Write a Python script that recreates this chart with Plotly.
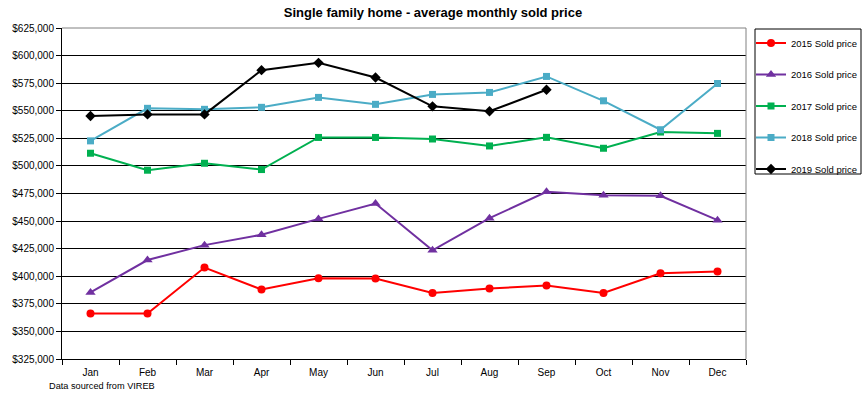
import plotly.graph_objects as go

months = ["Jan", "Feb", "Mar", "Apr", "May", "Jun", "Jul", "Aug", "Sep", "Oct", "Nov", "Dec"]

sold_2015 = [366300, 366300, 407900, 388000, 398200, 397900, 384900, 388900, 391600, 384900, 402700, 404200]
sold_2016 = [385300, 414700, 428200, 437600, 452000, 465900, 423500, 452600, 476500, 473500, 472900, 450800]
sold_2017 = [511500, 496100, 502400, 496700, 525800, 525800, 524400, 518100, 525900, 516000, 530700, 529500]
sold_2018 = [522700, 552200, 551300, 553100, 562100, 555800, 564800, 566600, 581100, 559000, 532800, 574700]
sold_2019 = [545200, 546700, 546700, 586800, 593400, 580100, 554000, 549500, 569000]

series_names = ["2015 Sold price", "2016 Sold price", "2017 Sold price", "2018 Sold price", "2019 Sold price"]
series_values = [sold_2015, sold_2016, sold_2017, sold_2018, sold_2019]
colors = ["#FF0000", "#7030A0", "#00B050", "#4BACC6", "#000000"]
symbols = ["circle", "triangle-up", "square", "square", "diamond"]
sizes = [8, 9, 7, 7, 8]

y_min, y_max, y_step = 325000, 625000, 25000

FONT = "Arial, Liberation Sans, sans-serif"

# plot area in page pixels: x 62..746, y 28..359
PX_L, PX_R, PX_T, PX_B = 62, 746, 28, 359
def px_x(x):
    return (x - PX_L) / (PX_R - PX_L)
def px_y(y):
    return (PX_B - y) / (PX_B - PX_T)

fig = go.Figure()
for i, (name, vals) in enumerate(zip(series_names, series_values)):
    fig.add_trace(go.Scatter(
        x=months[:len(vals)], y=vals, name=name, mode="lines+markers",
        line=dict(color=colors[i], width=2),
        marker=dict(symbol=symbols[i], size=sizes[i], color=colors[i]),
        legendgroup=f"g{i}",
    ))

fig.update_layout(
    width=868, height=396,
    margin=dict(l=PX_L, r=868 - PX_R, t=PX_T, b=396 - PX_B, autoexpand=False),
    paper_bgcolor="white", plot_bgcolor="white",
    font=dict(family=FONT, size=10, color="black"),
    title=dict(text="<b>Single family home - average monthly sold price</b>",
               x=(433 / 868), xanchor="center", y=1 - 12 / 396, yanchor="middle",
               font=dict(size=13, family=FONT, color="black")),
    showlegend=True,
    legend=dict(x=px_x(751), xanchor="left", y=px_y(28.5), yanchor="top",
                borderwidth=0, bgcolor="rgba(0,0,0,0)",
                font=dict(size=9.5, family=FONT), tracegroupgap=12.5,
                itemwidth=30),
    xaxis=dict(type="category", categoryorder="array", categoryarray=months,
               range=[-0.5, 11.5], showgrid=False,
               showline=True, linecolor="black", linewidth=1,
               ticks="outside", tickson="boundaries", ticklen=5, tickcolor="black",
               ticklabelstandoff=4, tickfont=dict(size=10)),
    yaxis=dict(range=[y_min, y_max], dtick=y_step, tick0=y_min,
               tickformat="$,.0f", showgrid=True, gridcolor="black", gridwidth=1,
               showline=True, linecolor="black", linewidth=1,
               ticks="outside", ticklen=5, tickcolor="black",
               zeroline=False, tickfont=dict(size=10)),
    shapes=[
        dict(type="line", xref="paper", yref="paper", x0=0, x1=1, y0=1, y1=1,
             line=dict(color="#808080", width=1), layer="above"),
        dict(type="line", xref="paper", yref="paper", x0=1, x1=1, y0=0, y1=1,
             line=dict(color="#808080", width=1), layer="above"),
        dict(type="rect", xref="paper", yref="paper",
             x0=px_x(755), x1=px_x(861), y0=px_y(174), y1=px_y(29),
             line=dict(color="black", width=1), fillcolor="rgba(0,0,0,0)", layer="above"),
    ],
    annotations=[
        dict(text="Data sourced from VIREB", xref="paper", yref="paper",
             x=px_x(47), y=px_y(386), xanchor="left", yanchor="middle",
             showarrow=False, font=dict(size=9.2, family=FONT)),
    ],
)

fig.write_html("out.html", config={"displayModeBar": False},
               post_script="document.body.style.margin='0';")
